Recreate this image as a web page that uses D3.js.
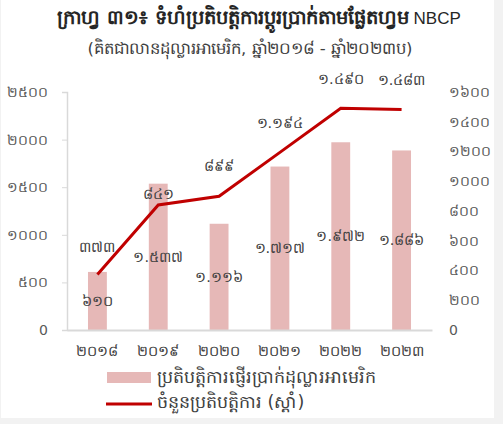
<!DOCTYPE html>
<html>
<head>
<meta charset="utf-8">
<script src="https://cdn.jsdelivr.net/npm/d3@7"></script>
<style>
  body { margin: 0; background: #f2f2f2; }
  svg { display: block; }
  text { font-family: "DejaVu Sans", "Noto Sans", sans-serif; fill: #404040; }
</style>
</head>
<body>
<div id="chart"></div>
<script>
var svgWidth = 503;
var svgHeight = 424;

// data
var years = ["២០១៨", "២០១៩", "២០២០", "២០២១", "២០២២", "២០២៣"];
var amountValues = [610, 1537, 1116, 1717, 1972, 1886];
var amountLabels = ["៦១០", "១.៥៣៧", "១.១១៦", "១.៧១៧", "១.៩៧២", "១.៨៨៦"];
var countValues = [373, 841, 899, 1194, 1490, 1483];
var countLabels = ["៣៧៣", "៨៤១", "៨៩៩", "១.១៩៤", "១.៤៩០", "១.៤៨៣"];
var leftTicks = [0, 500, 1000, 1500, 2000, 2500];
var leftTickLabels = ["0", "៥០០", "១០០០", "១៥០០", "២០០០", "២៥០០"];
var rightTicks = [0, 200, 400, 600, 800, 1000, 1200, 1400, 1600];
var rightTickLabels = ["0", "២០០", "៤០០", "៦០០", "៨០០", "១០០០", "១២០០", "១៤០០", "១៦០០"];

var title = "ក្រាហ្វ ៣១៖ ទំហំប្រតិបត្តិការប្តូរប្រាក់តាមផ្លែតហ្វម";
var titleTail = " NBCP";
var subtitle = "(គិតជាលានដុល្លារអាមេរិក, ឆ្នាំ២០១៨ - ឆ្នាំ២០២៣ប)";
var legendBar = "ប្រតិបត្តិការផ្ញើរប្រាក់ដុល្លារអាមេរិក";
var legendLine = "ចំនួនប្រតិបត្តិការ (ស្តាំ)";

var margin = { top: 92, right: 71, bottom: 94, left: 67 };
var chartWidth = svgWidth - margin.left - margin.right;
var chartHeight = svgHeight - margin.top - margin.bottom;

var svg = d3.select("#chart")
    .append("svg")
    .attr("width", svgWidth)
    .attr("height", svgHeight);

// white card with the grey strip on the right and bottom
svg.append("rect")
    .attr("x", 1)
    .attr("y", 0)
    .attr("width", 493)
    .attr("height", 418)
    .attr("fill", "#ffffff");

var t = svg.append("text")
    .attr("x", 259)
    .attr("y", 24)
    .attr("text-anchor", "middle")
    .attr("font-size", "19.5px")
    .attr("font-weight", "bold")
    .style("fill", "#262626");
t.append("tspan").text(title);
t.append("tspan")
    .attr("font-weight", "normal")
    .attr("font-size", "17px")
    .style("font-family", "'Liberation Sans', Arial, sans-serif")
    .text(titleTail);

svg.append("text")
    .attr("x", 250)
    .attr("y", 54)
    .attr("text-anchor", "middle")
    .attr("font-size", "16.5px")
    .text(subtitle);

var chartGroup = svg.append("g")
    .attr("transform", `translate(${margin.left}, ${margin.top})`);

var xScale = d3.scaleBand()
    .domain(years)
    .range([0, chartWidth])
    .paddingInner(0.69)
    .paddingOuter(0.345);

var yLeft = d3.scaleLinear()
    .domain([0, 2500])
    .range([chartHeight, 0]);

var yRight = d3.scaleLinear()
    .domain([0, 1600])
    .range([chartHeight, 0]);

// left axis
var leftAxis = d3.axisLeft(yLeft)
    .tickValues(leftTicks)
    .tickSize(5)
    .tickPadding(14)
    .tickFormat((d, i) => leftTickLabels[i]);

var gl = chartGroup.append("g").call(leftAxis);
gl.select(".domain").attr("stroke", "#d9d9d9").attr("stroke-width", 1.5);
gl.selectAll(".tick line").attr("stroke", "#d9d9d9");
gl.selectAll(".tick text").attr("font-size", "14px").style("fill", "#595959");

// right axis, labels only
var rightAxis = d3.axisRight(yRight)
    .tickValues(rightTicks)
    .tickSize(0)
    .tickPadding(17)
    .tickFormat((d, i) => rightTickLabels[i]);

var gr = chartGroup.append("g")
    .attr("transform", `translate(${chartWidth}, 0)`)
    .call(rightAxis);
gr.select(".domain").remove();
gr.selectAll(".tick text").attr("font-size", "14px").style("fill", "#595959");

// bars
chartGroup.selectAll(".bar")
    .data(amountValues)
    .enter()
    .append("rect")
    .attr("class", "bar")
    .attr("x", (d, i) => xScale(years[i]))
    .attr("y", d => yLeft(d))
    .attr("width", xScale.bandwidth())
    .attr("height", d => chartHeight - yLeft(d))
    .attr("fill", "#e6b8b7");

// bottom axis
var bottomAxis = d3.axisBottom(xScale).tickSize(0).tickPadding(16);
var gb = chartGroup.append("g")
    .attr("transform", `translate(0, ${chartHeight})`)
    .call(bottomAxis);
gb.select(".domain").attr("stroke", "#d9d9d9").attr("stroke-width", 2);
gb.selectAll(".tick text").attr("font-size", "14.5px").style("fill", "#404040");

// bar labels, centred in the bar
chartGroup.selectAll(".barLabel")
    .data(amountValues)
    .enter()
    .append("text")
    .attr("class", "barLabel")
    .attr("x", (d, i) => xScale(years[i]) + xScale.bandwidth() / 2)
    .attr("y", d => (yLeft(d) + chartHeight) / 2)
    .attr("dy", "0.35em")
    .attr("text-anchor", "middle")
    .attr("font-size", "14.5px")
    .text((d, i) => amountLabels[i]);

// line
var line = d3.line()
    .x((d, i) => xScale(years[i]) + xScale.bandwidth() / 2)
    .y(d => yRight(d));

chartGroup.append("path")
    .datum(countValues)
    .attr("d", line)
    .attr("fill", "none")
    .attr("stroke", "#c00000")
    .attr("stroke-width", 3);

var lineLabelDy = [-28, -11, -30, -29, -29, -29];
chartGroup.selectAll(".lineLabel")
    .data(countValues)
    .enter()
    .append("text")
    .attr("class", "lineLabel")
    .attr("x", (d, i) => xScale(years[i]) + xScale.bandwidth() / 2)
    .attr("y", (d, i) => yRight(d) + lineLabelDy[i])
    .attr("dy", "0.35em")
    .attr("text-anchor", "middle")
    .attr("font-size", "14.5px")
    .text((d, i) => countLabels[i]);

// legend
var legend = svg.append("g");
legend.append("rect")
    .attr("x", 107)
    .attr("y", 372)
    .attr("width", 44)
    .attr("height", 11)
    .attr("fill", "#e6b8b7");
legend.append("text")
    .attr("x", 157)
    .attr("y", 377)
    .attr("dy", "0.35em")
    .attr("font-size", "17.5px")
    .text(legendBar);
legend.append("line")
    .attr("x1", 106)
    .attr("x2", 152)
    .attr("y1", 404)
    .attr("y2", 404)
    .attr("stroke", "#c00000")
    .attr("stroke-width", 3);
legend.append("text")
    .attr("x", 157)
    .attr("y", 402)
    .attr("dy", "0.35em")
    .attr("font-size", "17.5px")
    .text(legendLine);
</script>
</body>
</html>
